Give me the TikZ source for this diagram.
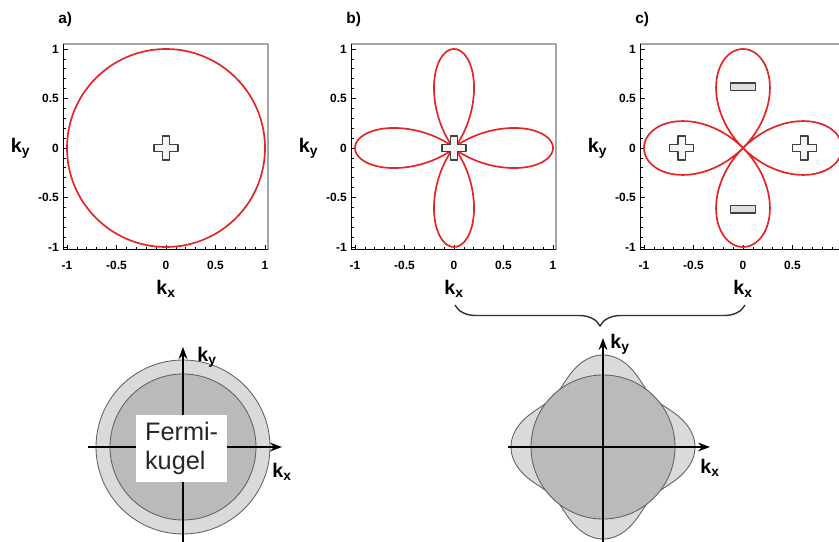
\documentclass[tikz,border=0pt]{standalone}
\usepackage{fontspec}
\setmainfont{Liberation Sans}
\usetikzlibrary{arrows.meta, decorations.pathreplacing}

\definecolor{lobered}{RGB}{226,38,40}
\definecolor{shelllight}{RGB}{218,218,218}
\definecolor{coredark}{RGB}{186,186,186}
\definecolor{outlinegray}{RGB}{95,95,95}

\tikzset{
  lobe/.style={draw=lobered, line width=1.2pt},
  boxgray/.style={draw=black!35, line width=1pt},
  boxblack/.style={draw=black, line width=0.7pt},
  tickmark/.style={draw=black, line width=0.5pt},
  ticklabel/.style={font=\fontsize{8.5}{10}\selectfont\bfseries, inner sep=0pt},
  klabel/.style={font=\fontsize{14}{16}\selectfont\bfseries, inner sep=0pt},
  panel/.style={font=\fontsize{11}{13}\selectfont\bfseries, anchor=west, inner sep=0pt},
  signline/.style={draw=black!75, line width=0.9pt, line join=round},
  kaxis/.style={draw=black, line width=1.1pt, -{Stealth[length=3mm, width=2.2mm]}},
  ringline/.style={draw=outlinegray, line width=0.6pt},
  bracket/.style={decorate, decoration={brace, mirror, amplitude=5.25mm}, draw=black!80, line width=1pt},
  plussign/.pic={
    \draw[signline, fill=gray!8] (-0.09,-0.3) -- (0.09,-0.3) -- (0.09,-0.09) -- (0.3,-0.09)
      -- (0.3,0.09) -- (0.09,0.09) -- (0.09,0.3) -- (-0.09,0.3) -- (-0.09,0.09)
      -- (-0.3,0.09) -- (-0.3,-0.09) -- (-0.09,-0.09) -- cycle;
  },
  minussign/.pic={
    \draw[signline, fill=gray!25] (-0.32,-0.09) rectangle (0.32,0.09);
  }
}

\begin{document}
\begin{tikzpicture}
\useasboundingbox (0,0) rectangle (20.975,13.525);
\clip (0,0) rectangle (20.975,13.525);

\foreach \p/\cx/\lab/\xvals in {A/4.15/a/{-1,-0.5,0,0.5,1}, B/11.35/b/{-1,-0.5,0,0.5,1}, C/18.575/c/{-1,-0.5,0,0.5}} {
\begin{scope}[shift={(\cx,9.825)}, scale=2.475]
\draw[boxgray] (-1.04,1.05) -- (1.03,1.05) -- (1.03,-1.03);
\draw[boxblack] (-1.04,1.05) -- (-1.04,-1.03) -- (1.03,-1.03);
\foreach \i [evaluate=\i as \t using -1+\i/10] in {0,...,20} {
\draw[tickmark] (\t,-1.03) -- (\t,-1.0);
\draw[tickmark] (-1.04,\t) -- (-1.01,\t);
}
\foreach \v [count=\i] in {-1,-0.5,0,0.5,1} {
\draw[tickmark] (\v,-1.03) -- (\v,-0.98);
\draw[tickmark] (-1.04,\v) -- (-0.99,\v);
\node[ticklabel, anchor=east] (yt\p\i) at (-1.08,\v) {\v};
}
\foreach \v [count=\i] in \xvals {
\node[ticklabel, anchor=north] (xt\p\i) at (\v,-1.14) {\v};
}
\node[panel] (lab\p) at (-1.09,1.3) {\lab)};
\node[klabel] (kx\p) at (0,-1.42) {k\textsubscript{x}};
\node[klabel] (ky\p) at (-1.47,0) {k\textsubscript{y}};
\end{scope}
}

\begin{scope}[shift={(4.15,9.825)}, scale=2.475]
\draw[lobe] (0,0) circle (1);
\pic at (0,0) {plussign};
\end{scope}

\begin{scope}[shift={(11.35,9.825)}, scale=2.475]
\draw[lobe] plot[domain=0:360, samples=241, smooth] (\x:{cos(2*\x)*cos(2*\x)});
\pic at (0,0) {plussign};
\end{scope}

\begin{scope}[shift={(18.575,9.825)}, scale=2.475]
\draw[lobe] plot[domain=0:360, samples=241, smooth] (\x:{abs(cos(2*\x))});
\pic at (-0.62,0) {plussign};
\pic at (0.62,0) {plussign};
\pic at (0,0.62) {minussign};
\pic at (0,-0.62) {minussign};
\end{scope}

\coordinate (braceL) at (11.375,5.9);
\coordinate (braceR) at (18.625,5.9);
\draw[bracket] (braceL) -- (braceR);

\coordinate (sphere) at (4.575,2.35);
\filldraw[fill=shelllight, ringline] (sphere) circle (2.175);
\filldraw[fill=coredark, ringline] (sphere) circle (1.825);
\draw[kaxis] ([xshift=-2.375cm]sphere) -- ([xshift=2.475cm]sphere);
\draw[kaxis] ([yshift=-2.6cm]sphere) -- ([yshift=2.5cm]sphere);
\node[fill=white, align=left, minimum width=2.275cm, minimum height=1.675cm,
  font=\fontsize{18}{21}\selectfont, text=black!85] (fermi) at (4.54,2.31) {Fermi-\\kugel};
\node[klabel] (kyL) at (5.175,4.6) {k\textsubscript{y}};
\node[klabel] (kxL) at (7.05,1.725) {k\textsubscript{x}};

\coordinate (dwave) at (15.075,2.35);
\begin{scope}[shift={(dwave)}]
\filldraw[fill=shelllight, ringline] plot[domain=0:360, samples=181, smooth] (\x:{2.03+0.27*cos(4*\x)}) -- cycle;
\filldraw[fill=coredark, ringline] (0,0) circle (1.8);
\end{scope}
\draw[kaxis] ([xshift=-2.375cm]dwave) -- ([xshift=2.675cm]dwave);
\draw[kaxis] ([yshift=-2.6cm]dwave) -- ([yshift=2.725cm]dwave);
\node[klabel] (kyR) at (15.5,4.925) {k\textsubscript{y}};
\node[klabel] (kxR) at (17.75,1.825) {k\textsubscript{x}};
\end{tikzpicture}
\end{document}
